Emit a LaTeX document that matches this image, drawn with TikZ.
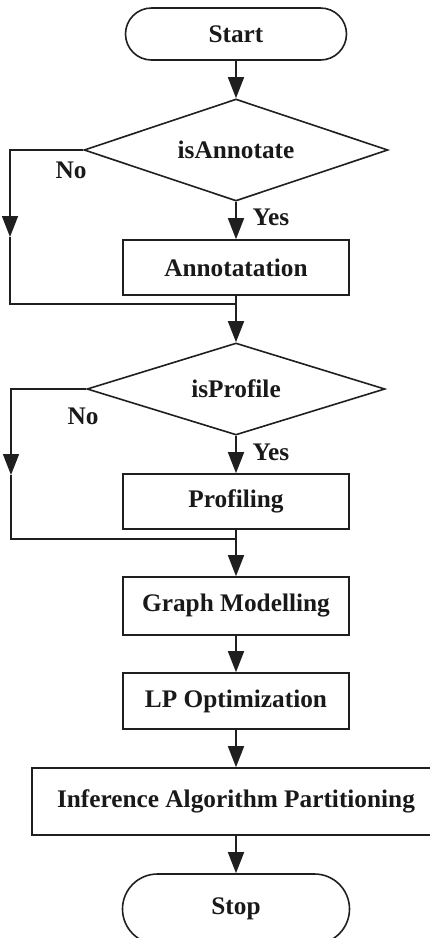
\documentclass[tikz,border=0pt]{standalone}
\usepackage{fontspec}
\setmainfont{Liberation Serif}
\usetikzlibrary{arrows.meta,shapes.geometric}
\begin{document}
\begin{tikzpicture}[x=1pt,y=-1pt,
  every node/.style={font=\fontsize{25.3}{30}\selectfont\bfseries, text=black!90},
  line/.style={draw=black!88, line width=1.6pt},
  flow/.style={line, -{Triangle[length=21pt,width=16pt]}},
  terminal/.style={line, rectangle, rounded corners=#1, inner sep=0pt},
  stepbox/.style={line, rectangle, inner sep=0pt, minimum width=226pt},
  decision/.style={line, diamond, aspect=3, inner sep=0pt},
  lbl/.style={inner sep=0pt}]
  \useasboundingbox (0,0) rectangle (430,938);

  % process chain
  \node[terminal=26pt, minimum width=221pt, minimum height=52pt] (start) at (236,34) {Start};
  \node[decision, minimum width=304pt, minimum height=102pt] (d1) at (236,150) {isAnnotate};
  \node[stepbox, minimum height=55pt] (ann) at (236,267.5) {Annotatation};
  \node[decision, minimum width=298pt, minimum height=92pt] (d2) at (236,389) {isProfile};
  \node[stepbox, minimum height=55pt] (prof) at (236,501.5) {Profiling};
  \node[stepbox, minimum height=58pt] (graph) at (236,606) {Graph Modelling};
  \node[stepbox, minimum height=56pt] (lp) at (236,701) {LP Optimization};
  \node[stepbox, minimum width=408pt, minimum height=67pt] (inf) at (236,801.5) {Inference Algorithm Partitioning};
  \node[terminal=35pt, minimum width=227pt, minimum height=70pt] (stop) at (236,909) {Stop};

  % bypass routes and their merge points
  \coordinate (n1) at (10,237);
  \coordinate (j1) at (236,304);
  \coordinate (n2) at (11,475);
  \coordinate (j2) at (236,539);

  % connectors
  \draw[flow] (start) -- (d1);
  \draw[flow] (d1.south) -- (ann.north);
  \draw[flow] (ann.south) -- (d2.north);
  \draw[flow] (d1.west) -| (n1);
  \draw[line] (n1) |- (j1);
  \draw[flow] (d2.south) -- (prof.north);
  \draw[flow] (prof.south) -- (graph.north);
  \draw[flow] (d2.west) -| (n2);
  \draw[line] (n2) |- (j2);
  \draw[flow] (graph) -- (lp);
  \draw[flow] (lp.south) -- (inf.north);
  \draw[flow] (inf.south) -- (stop.north);

  % branch labels
  \node[lbl] (no1) at (71,170) {No};
  \node[lbl] (yes1) at (271,217) {Yes};
  \node[lbl] (no2) at (83,416) {No};
  \node[lbl] (yes2) at (271,452) {Yes};
\end{tikzpicture}
\end{document}
